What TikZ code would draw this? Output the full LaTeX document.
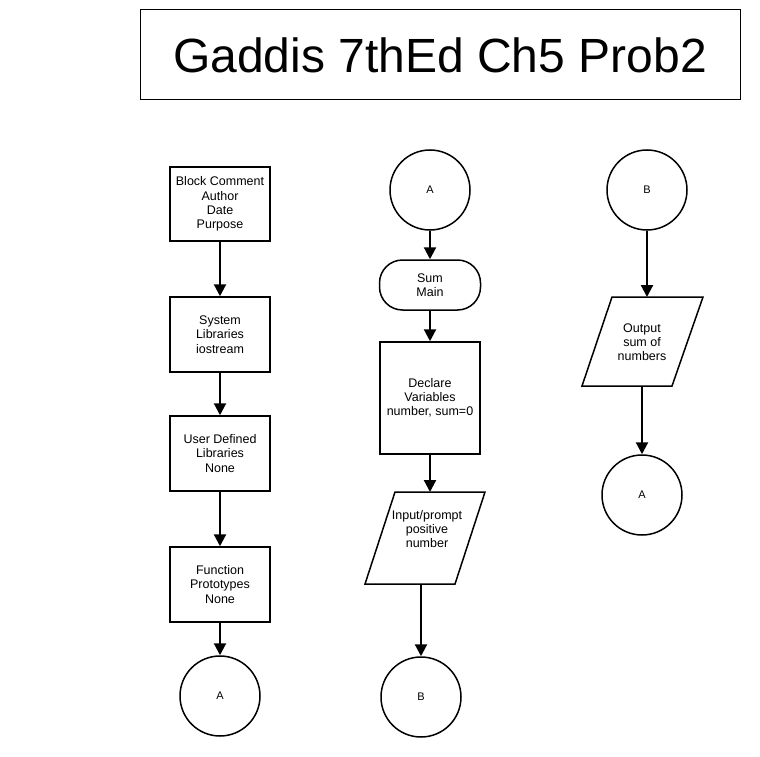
\documentclass[tikz,border=0pt]{standalone}
\usepackage{fontspec}
\setmainfont{Liberation Sans}
\usetikzlibrary{arrows.meta}
\begin{document}
\begin{tikzpicture}[x=1pt,y=-1pt,
  boxtxt/.style={font=\fontsize{12.5}{14.2}\selectfont, align=center},
  procbox/.style={draw, line width=1.5pt, boxtxt, inner sep=0pt, minimum width=100pt},
  conn/.style={draw, circle, line width=1.5pt, minimum size=80pt, inner sep=0pt, font=\fontsize{11}{13}\selectfont},
  shapeline/.style={line width=1.5pt, line join=miter},
  arr/.style={line width=2.2pt, -{Triangle[length=12pt,width=12pt]}}]
\useasboundingbox (0,0) rectangle (760,757);
\fill[white] (0,0) rectangle (760,757);
% title
\node[draw, line width=1pt, minimum width=600pt, minimum height=90pt, inner sep=0pt,
  font=\fontsize{48}{54}\selectfont] (title) at (440,55) {Gaddis 7thEd Ch5 Prob2};
% column 1
\node[procbox, minimum height=74pt] (b1) at (220,204) {Block Comment\\Author\\Date\\Purpose};
\node[procbox, minimum height=75pt] (b2) at (220,334.5) {System\\Libraries\\iostream};
\node[procbox, minimum height=75pt] (b3) at (220,453.5) {User Defined\\Libraries\\None};
\node[procbox, minimum height=75pt] (b4) at (220,584.5) {Function\\Prototypes\\None};
\node[conn] (a1) at (220,696) {A};
\draw[arr] (b1) -- (b2);
\draw[arr] (b2) -- (b3);
\draw[arr] (b3) -- (b4);
\draw[arr] (b4) -- (a1);
% column 2
\node[conn] (a2) at (430,190) {A};
\node[procbox, minimum width=101pt, minimum height=50pt, rounded corners=23pt] (sum) at (430,285) {Sum\\Main};
\node[procbox, minimum height=112pt] (dec) at (430,398) {Declare\\Variables\\number, sum=0};
\coordinate (inptop) at (430,492);
\coordinate (inpbot) at (421,584);
\draw[shapeline] (395,492) -- (485,492) -- (455,584) -- (365,584) -- cycle;
\node[boxtxt] (inp) at (427,529) {Input/prompt\\positive\\number};
\node[conn] (bb1) at (421,697) {B};
\draw[arr] (a2) -- (sum);
\draw[arr] (sum) -- (dec);
\draw[arr] (dec) -- (inptop);
\draw[arr] (inpbot) -- (bb1);
% column 3
\node[conn] (bb2) at (647,190) {B};
\coordinate (outtop) at (647,297);
\coordinate (outbot) at (642,386);
\draw[shapeline] (612,297) -- (703,297) -- (672,386) -- (582,386) -- cycle;
\node[boxtxt] (out) at (642,342) {Output\\sum of\\numbers};
\node[conn] (a3) at (642,495) {A};
\draw[arr] (bb2) -- (outtop);
\draw[arr] (outbot) -- (a3);
\end{tikzpicture}
\end{document}
